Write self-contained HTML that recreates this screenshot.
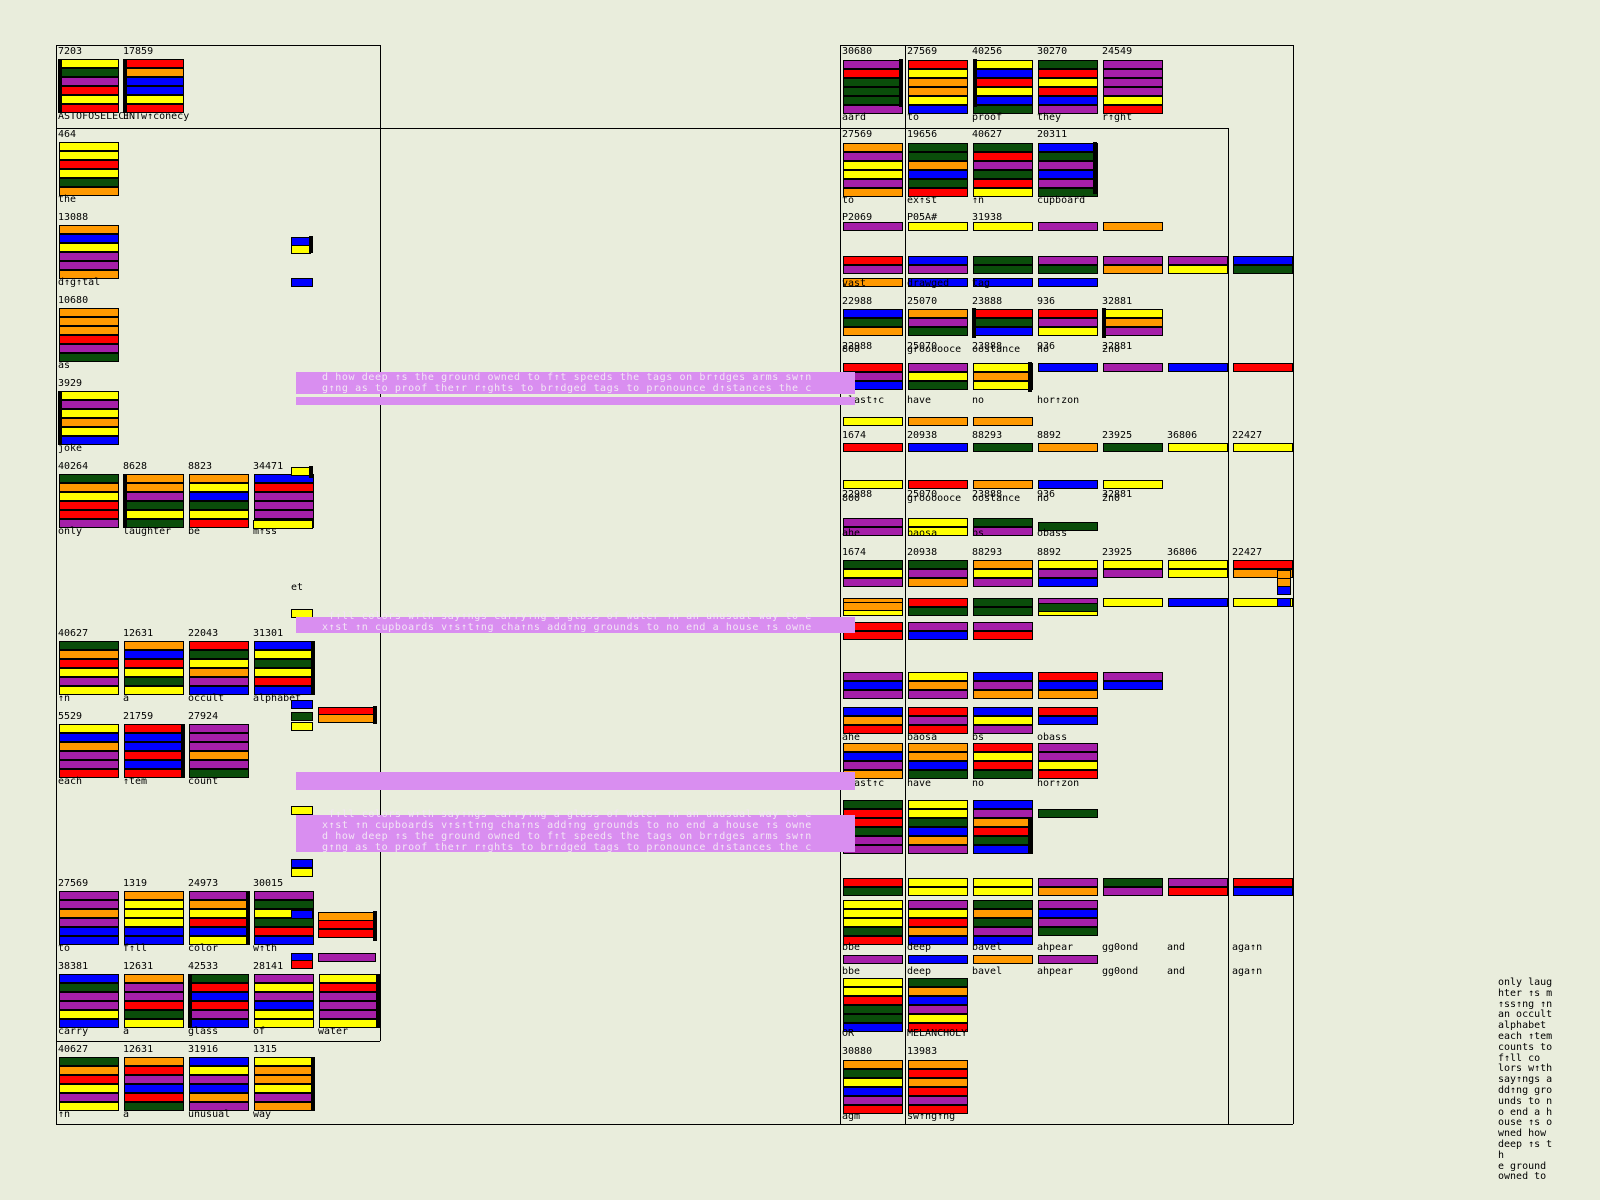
<!DOCTYPE html>
<html><head><meta charset="utf-8"><style>
html,body{margin:0;padding:0;background:#e9eddc;width:1600px;height:1200px;overflow:hidden;position:relative;font-family:"DejaVu Sans Mono","Liberation Mono",monospace;}
.b{position:absolute;height:7px;border:1px solid #000;box-sizing:content-box;}
.t{position:absolute;font-size:10px;line-height:10px;color:#000;white-space:pre;}
.l{position:absolute;background:#000;}
.p{position:absolute;background:#d98ef0;}
.pt{position:absolute;font-size:10px;line-height:10.5px;color:#f3e6f5;white-space:pre;letter-spacing:0.6px;}
.sb{position:absolute;background:#000;width:4px;}
</style></head><body>
<script>
const C={Y:'#ffff00',G:'#0a4d0a',P:'#a51fa8',R:'#ff0000',O:'#ff9900',B:'#0000ff'};
const K='YGPROB';
let s=7;function rnd(){s=(s*9301+49297)%233280;return s/233280;}
function rc(){return C[K[Math.floor(rnd()*6)]];}
function bar(x,y,c,w){document.write(`<div class="b" style="left:${x}px;top:${y}px;width:${(w||58)}px;background:${c}"></div>`);}
function txt(x,y,t){document.write(`<div class="t" style="left:${x}px;top:${y}px">${t}</div>`);}
function line(x,y,w,h){document.write(`<div class="l" style="left:${x}px;top:${y}px;width:${w}px;height:${h}px"></div>`);}
function cell(x,y,num,word,cols,side){
 txt(x,y+2,num);
 for(let i=0;i<6;i++)bar(x+1,y+14+i*9,cols?C[cols[i]]:rc());
 if(side)line(x+(side==1?0:58),y+14,4,54);
 txt(x,y+67,word);
}
// frame lines
line(56,45,324,1);line(56,45,1,996);line(380,45,1,996);line(56,1041,324,1);
line(56,128,1172,1);line(56,128,1,996);line(1228,128,1,996);line(56,1124,1237,1);
line(840,45,453,1);line(840,45,1,1079);line(1293,45,1,1079);line(905,45,1,1079);
// left column
cell(58,45,'7203','ASTOFOSELECT','YGPRYR',1);
cell(123,45,'17859','     conecy','ROBBYR',1);
txt(123,112,'ENTw↑');
cell(58,128,'464','the','YYRYGO');
cell(58,211,'13088','d↑g↑tal','OBYPPO');
cell(58,294,'10680','as','OOORPG');
cell(58,377,'3929','joke','YPYOYB',1);
cell(58,460,'40264','only','GOYRRP');
cell(123,460,'8628','laughter','OOPGYG',1);
cell(188,460,'8823','be','OYBGYR');
cell(253,460,'34471','m↑ss','BRPPPY');
cell(58,627,'40627','↑n','GORYPY');
cell(123,627,'12631','a','OBRYGY');
cell(188,627,'22043','occult','RGYOPB');
cell(253,627,'31301','alphabet','BYGYRB',2);
cell(58,710,'5529','each','YBOPPR');
cell(123,710,'21759','↑tem','RBBRBR',2);
cell(188,710,'27924','count','PPPOPG');
cell(58,877,'27569','to','PPOPBB');
cell(123,877,'1319','f↑ll','OYYYBB');
cell(188,877,'24973','color','POYRBY',2);
cell(253,877,'30015','w↑th','PGYGRB');
cell(58,960,'38381','carry','BGPPYB');
cell(123,960,'12631','a','OPPRGY');
cell(188,960,'42533','glass','GRBRPB',1);
cell(253,960,'28141','of','PYPBYY');
cell(318,960,'','water','YRPPPY',2);
cell(58,1043,'40627','↑n','GORYPY');
cell(123,1043,'12631','a','ORPBRG');
cell(188,1043,'31916','unusual','BYPBOP');
cell(253,1043,'1315','way','YOOYPO',2);
// left glitch bits
bar(291,237,C.B,18);bar(291,245,C.Y,18);line(309,236,4,17);bar(291,278,C.B,20);
bar(291,467,C.Y,18);line(309,466,4,12);bar(253,520,C.Y,58);
txt(291,583,'et');bar(291,609,C.Y,20);
bar(291,700,C.B,20);bar(291,712,C.G,20);bar(291,722,C.Y,20);
bar(318,707,C.R,56);bar(318,714,C.O,56);line(373,706,4,18);
bar(291,806,C.Y,20);bar(291,859,C.B,20);bar(291,868,C.Y,20);
bar(318,912,C.O,56);bar(318,920,C.R,56);bar(318,929,C.R,56);line(373,911,4,30);
bar(291,910,C.B,20);bar(291,953,C.B,20);bar(291,960,C.R,20);bar(318,953,C.P,56);
// right grid
const RX=[842,907,972,1037,1102,1167,1232];
function rowb(y,n,from){for(let i=from||0;i<n;i++)bar(RX[i]+1,y,rc());}
function labels(y,arr){arr.forEach((t,i)=>{if(t)txt(RX[i],y,t)});}
labels(47,['30680','27569','40256','30270','24549']);
for(let k=0;k<6;k++)rowb(60+k*9,5);
line(899,59,4,48);line(973,59,4,48);
labels(113,['aard','to','proof','they','r↑ght']);
labels(130,['27569','19656','40627','20311']);
for(let k=0;k<6;k++)rowb(143+k*9,4);
line(1093,142,4,52);
labels(196,['to','ex↑st','↑n','cupboard']);
labels(213,['P2069','P05A#','31938']);
rowb(222,5);
rowb(256,7);rowb(265,7);rowb(278,4);
labels(279,['vast','drawged','tag','']);
labels(297,['22988','25070','23888','936','32881']);
rowb(309,5);rowb(318,5);rowb(327,5);
line(972,308,4,30);line(1102,308,4,30);
labels(342,['22988','25070','23888','936','32881']);
labels(345,['800','groooooce','oostance','no','2n0']);
rowb(363,7);rowb(372,3);rowb(381,3);line(1028,362,4,30);
labels(396,['plast↑c','have','no','hor↑zon']);
rowb(417,3);
labels(431,['1674','20938','88293','8892','23925','36806','22427']);
rowb(443,7);
rowb(480,5);
labels(490,['22988','25070','23888','936','32881']);
labels(494,['800','groooooce','oostance','no','2n0']);
rowb(518,3);rowb(527,3);bar(1038,522,C.G);
labels(529,['ahe','baosa','bs','obass']);
labels(548,['1674','20938','88293','8892','23925','36806','22427']);
rowb(560,7);rowb(569,7);rowb(578,4);
rowb(598,7);rowb(607,4);bar(843,602,C.O,58);bar(1038,603,C.G,58);
rowb(622,3);rowb(631,3);
bar(1277,570,C.O,12);bar(1277,578,C.O,12);bar(1277,586,C.B,12);bar(1277,598,C.B,12);
rowb(672,5);rowb(681,5);rowb(690,4);
rowb(707,4);rowb(716,4);rowb(725,3);
labels(733,['ahe','baosa','bs','obass']);
rowb(743,4);rowb(752,4);rowb(761,4);rowb(770,4);
labels(779,['plast↑c','have','no','hor↑zon']);
rowb(800,3);rowb(809,4);
rowb(818,3);rowb(827,3);rowb(836,3);rowb(845,3);line(1028,817,4,36);
rowb(878,7);rowb(887,7);
rowb(900,4);rowb(909,4);rowb(918,4);rowb(927,4);rowb(936,3);
labels(943,['bbe','deep','bavel','ahpear','gg0ond','and','aga↑n']);
rowb(955,4);
labels(967,['bbe','deep','bavel','ahpear','gg0ond','and','aga↑n']);
for(let k=0;k<6;k++)rowb(978+k*9,2);
labels(1029,['OR','MELANCHOLY']);
labels(1047,['30880','13983']);
for(let k=0;k<6;k++)rowb(1060+k*9,2);
labels(1112,['agm','sw↑ng↑ng']);
// pink bands
function pink(x,y,w,h){document.write(`<div class="p" style="left:${x}px;top:${y}px;width:${w}px;height:${h}px"></div>`);}
function pt(x,y,t){document.write(`<div class="pt" style="left:${x}px;top:${y}px">${t}</div>`);}
pink(296,372,559,22);pink(296,397,559,8);
pt(322,373,'d how deep ↑s the ground owned to f↑t speeds the tags on br↑dges arms sw↑n');
pt(322,384,'g↑ng as to proof the↑r r↑ghts to br↑dged tags to pronounce d↑stances the c');
pink(296,617,559,16);
pt(322,612,' f↑ll colors w↑th say↑ngs carry↑ng a glass of water ↑n an unusual way to e');
pt(322,623,'x↑st ↑n cupboards v↑s↑t↑ng cha↑ns add↑ng grounds to no end a house ↑s owne');
pink(296,772,559,18);
pink(296,815,559,37);
pt(322,810,' f↑ll colors w↑th say↑ngs carry↑ng a glass of water ↑n an unusual way to e');
pt(322,821,'x↑st ↑n cupboards v↑s↑t↑ng cha↑ns add↑ng grounds to no end a house ↑s owne');
pt(322,832,'d how deep ↑s the ground owned to f↑t speeds the tags on br↑dges arms sw↑n');
pt(322,843,'g↑ng as to proof the↑r r↑ghts to br↑dged tags to pronounce d↑stances the c');
// right text column
const rt=['only laug','hter ↑s m','↑ss↑ng ↑n','an occult','alphabet','each ↑tem','counts to','f↑ll co','lors w↑th','say↑ngs a','dd↑ng gro','unds to n','o end a h','ouse ↑s o','wned how','deep ↑s t','h','e ground','owned to'];
rt.forEach((t,i)=>txt(1498,978+i*10.8,t));
</script>
</body></html>
